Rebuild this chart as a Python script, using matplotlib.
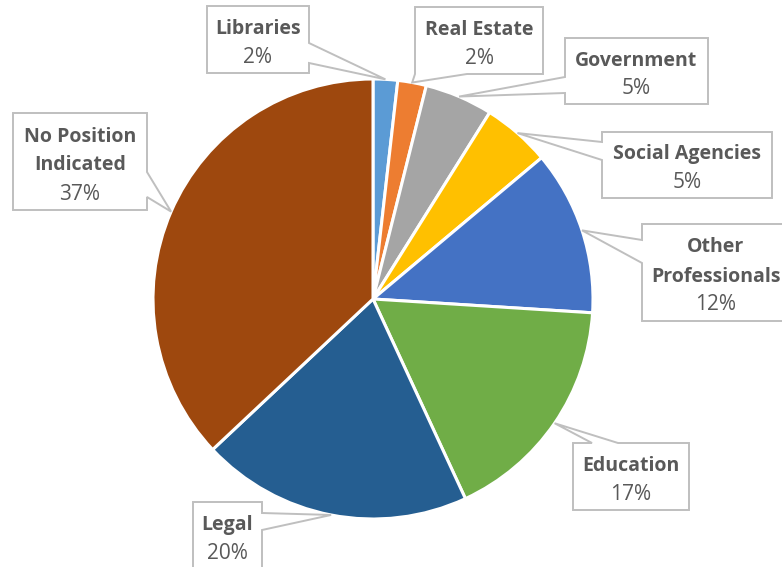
import matplotlib
matplotlib.use("Agg")
import matplotlib.pyplot as plt
from matplotlib.patches import Polygon
import numpy as np

# data (percent shares, clockwise from 12 o'clock)
categories = ["Libraries", "Real Estate", "Government", "Social Agencies",
              "Other Professionals", "Education", "Legal", "No Position Indicated"]
label_lines = [["Libraries"], ["Real Estate"], ["Government"], ["Social Agencies"],
               ["Other", "Professionals"], ["Education"], ["Legal"], ["No Position", "Indicated"]]
shares = [1.8, 2.1, 5.0, 5.0, 12.1, 17.1, 19.9, 37.0]
colors = ["#5B9BD5", "#ED7D31", "#A5A5A5", "#FFC000",
          "#4472C4", "#70AD47", "#255E91", "#9E480E"]

# callout layout in pixels (x0, y0, x1, y1), edge with the pointer, pointer base span
boxes = [(207, 6, 309, 73), (415, 7, 543, 74), (565, 38, 708, 104), (602, 132, 772, 198),
         (642, 224, 790, 321), (573, 443, 689, 510), (193, 502, 262, 569), (13, 113, 147, 210)]
edges = ["right", "bottom", "left", "left", "left", "top", "right", "right"]
bases = [(43, 63), (415, 467), (77, 93), (142, 160), (240, 263), (592, 618), (513, 530), (172, 197)]

W, H = 782, 567
CX, CY, R = 373, 299, 220


def px(x, y):
    return (x, H - y)


def callout_path(box, edge, base, tip):
    x0, y0, x1, y1 = box
    a, b = base
    # clockwise on screen: top-left, top-right, bottom-right, bottom-left
    pts = [(x0, y0)]
    if edge == "top":
        pts += [(a, y0), tip, (b, y0)]
    pts.append((x1, y0))
    if edge == "right":
        pts += [(x1, a), tip, (x1, b)]
    pts.append((x1, y1))
    if edge == "bottom":
        pts += [(b, y1), tip, (a, y1)]
    pts.append((x0, y1))
    if edge == "left":
        pts += [(x0, b), tip, (x0, a)]
    return [px(x, y) for x, y in pts]


plt.rcParams["font.family"] = ["Open Sans", "DejaVu Sans"]
fig = plt.figure(figsize=(W / 100, H / 100), dpi=100)
ax = fig.add_axes([0, 0, 1, 1])

wedges, _ = ax.pie(shares, colors=colors, startangle=90, counterclock=False,
                   center=px(CX, CY), radius=R,
                   wedgeprops=dict(edgecolor="white", linewidth=2.2))

for i, w in enumerate(wedges):
    mid = np.deg2rad((w.theta1 + w.theta2) / 2)
    tip = (CX + R * np.cos(mid), CY - R * np.sin(mid))
    poly = Polygon(callout_path(boxes[i], edges[i], bases[i], tip), closed=True,
                   facecolor="white", edgecolor="#BFBFBF", linewidth=1.4, zorder=5)
    ax.add_patch(poly)

    x0, y0, x1, y1 = boxes[i]
    cx, cy = (x0 + x1) / 2, (y0 + y1) / 2
    lines = label_lines[i] + [f"{round(shares[i])}%"]
    n = len(lines)
    for j, txt in enumerate(lines):
        yb = cy + (j - (n - 1) / 2) * 29 + 9
        bold = j < n - 1
        ax.text(*px(cx, yb), txt, ha="center", va="baseline",
                fontsize=14 if bold else 15,
                fontweight="bold" if bold else "normal", color="#595959", zorder=6)

ax.set_xlim(0, W)
ax.set_ylim(0, H)
ax.set_aspect("auto")
ax.axis("off")
fig.savefig("out.png", dpi=100, facecolor="white")
